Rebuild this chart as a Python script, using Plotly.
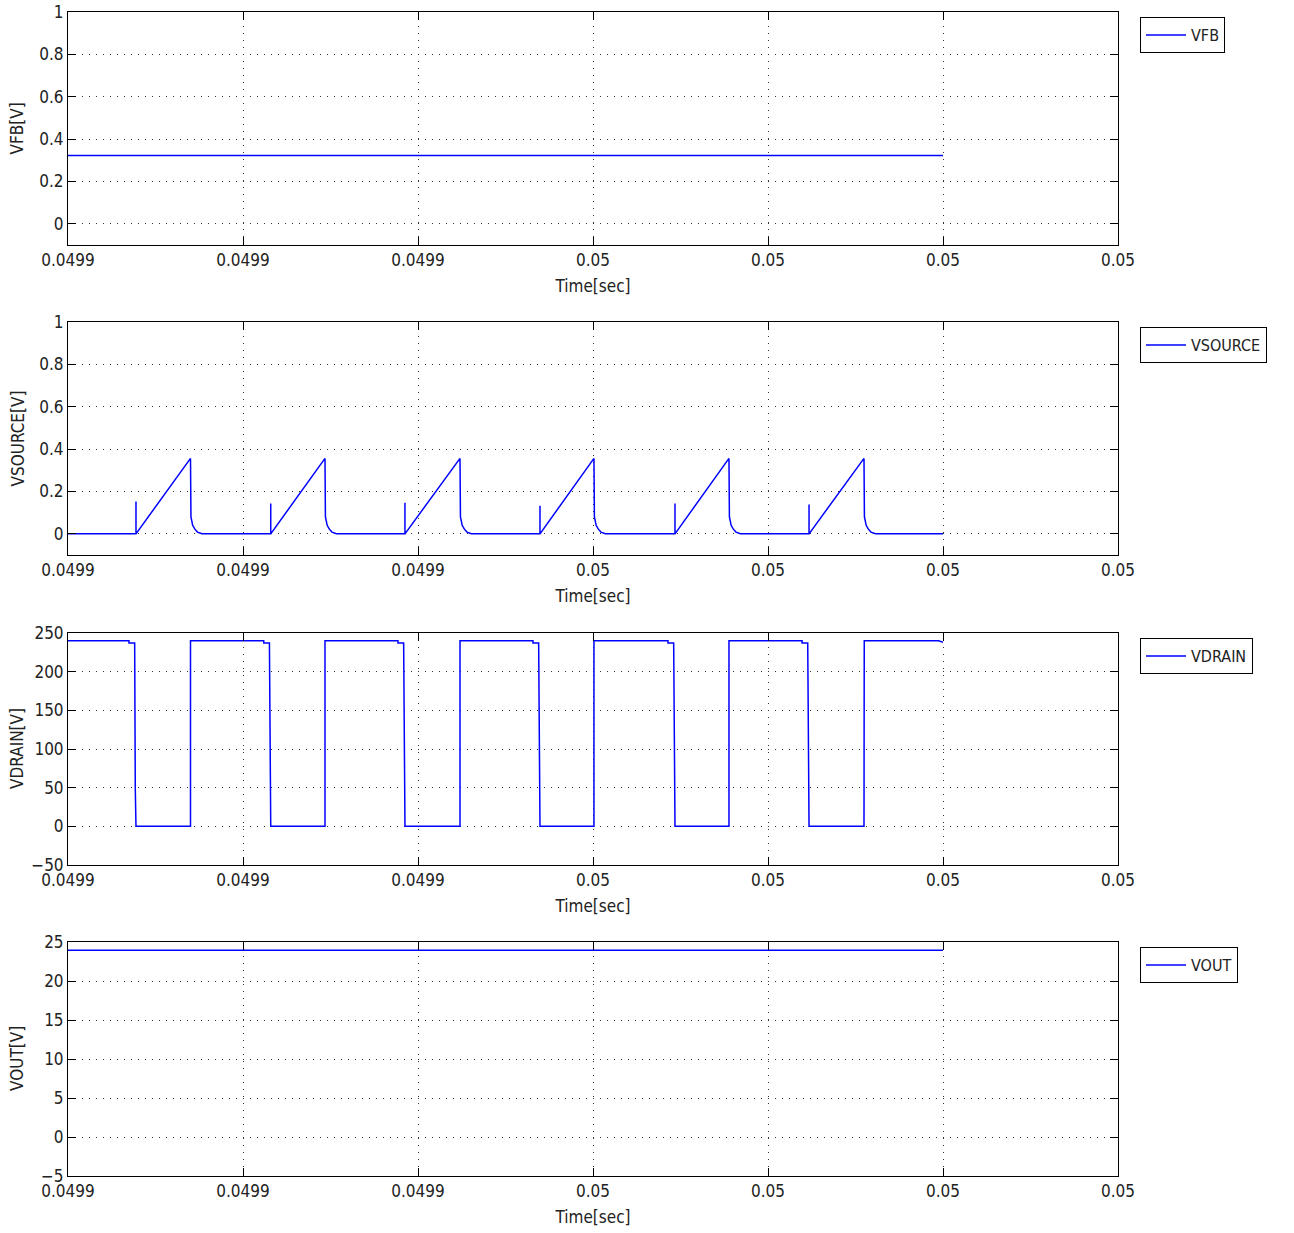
import plotly.graph_objects as go

# ---------------- data ----------------
x_tickvals = [0.04990, 0.04992, 0.04994, 0.04996, 0.04998, 0.05000, 0.05002]
x_ticktext = ["0.0499", "0.0499", "0.0499", "0.05", "0.05", "0.05", "0.05"]

vfb_t = [0.04990000, 0.05000000]
vfb_v = [0.322, 0.322]

vout_t = [0.04990000, 0.05000000]
vout_v = [23.95, 23.95]

vsource_t = [
    0.04990000,
    0.04990777, 0.04990777, 0.04990777, 0.04991400, 0.04991405, 0.04991425, 0.04991450, 0.04991480, 0.04991530,
    0.04992317, 0.04992317, 0.04992317, 0.04992937, 0.04992942, 0.04992962, 0.04992987, 0.04993017, 0.04993067,
    0.04993851, 0.04993851, 0.04993851, 0.04994480, 0.04994485, 0.04994505, 0.04994530, 0.04994560, 0.04994610,
    0.04995394, 0.04995394, 0.04995394, 0.04996011, 0.04996016, 0.04996036, 0.04996061, 0.04996091, 0.04996141,
    0.04996937, 0.04996937, 0.04996937, 0.04997554, 0.04997559, 0.04997579, 0.04997604, 0.04997634, 0.04997684,
    0.04998469, 0.04998469, 0.04998469, 0.04999097, 0.04999102, 0.04999122, 0.04999147, 0.04999177, 0.04999227,
    0.05000000,
]
vsource_v = [
    0.0,
    0.0, 0.152, 0.0, 0.356, 0.08, 0.04, 0.022, 0.008, 0.0,
    0.0, 0.143, 0.0, 0.356, 0.08, 0.04, 0.022, 0.008, 0.0,
    0.0, 0.147, 0.0, 0.356, 0.08, 0.04, 0.022, 0.008, 0.0,
    0.0, 0.133, 0.0, 0.356, 0.08, 0.04, 0.022, 0.008, 0.0,
    0.0, 0.143, 0.0, 0.356, 0.08, 0.04, 0.022, 0.008, 0.0,
    0.0, 0.138, 0.0, 0.356, 0.08, 0.04, 0.022, 0.008, 0.0,
    0.0,
]

vdrain_t = [
    0.04990000,
    0.04990697, 0.04990697, 0.04990762, 0.04990769, 0.04990777, 0.04991400, 0.04991400,
    0.04992237, 0.04992237, 0.04992302, 0.04992309, 0.04992317, 0.04992937, 0.04992937,
    0.04993771, 0.04993771, 0.04993836, 0.04993843, 0.04993851, 0.04994480, 0.04994480,
    0.04995314, 0.04995314, 0.04995379, 0.04995386, 0.04995394, 0.04996011, 0.04996011,
    0.04996857, 0.04996857, 0.04996922, 0.04996929, 0.04996937, 0.04997554, 0.04997554,
    0.04998389, 0.04998389, 0.04998454, 0.04998461, 0.04998469, 0.04999097, 0.04999097, 0.04999100, 0.04999100,
    0.04999950, 0.05000000,
]
vdrain_v = [
    240,
    240, 237, 237, 48, 0, 0, 240,
    240, 237, 237, 48, 0, 0, 240,
    240, 237, 237, 48, 0, 0, 240,
    240, 237, 237, 48, 0, 0, 240,
    240, 237, 237, 48, 0, 0, 240,
    240, 237, 237, 48, 0, 0, 100, 105, 240,
    240, 238,
]

signals = [
    ("VFB", vfb_t, vfb_v, "VFB[V]", [-0.1, 1], 0.2),
    ("VSOURCE", vsource_t, vsource_v, "VSOURCE[V]", [-0.1, 1], 0.2),
    ("VDRAIN", vdrain_t, vdrain_v, "VDRAIN[V]", [-50, 250], 50),
    ("VOUT", vout_t, vout_v, "VOUT[V]", [-5, 25], 5),
]

# ---------------- figure ----------------
W, H = 1294, 1233
ML, MR, MT, MB = 68, 176, 12, 57
PH = H - MT - MB
PW = W - ML - MR
# pixel boxes (top, bottom) of each axes in the reference
boxes = [(12, 245), (322, 555), (633, 865), (942, 1176)]

FONT = "DejaVu Sans Condensed, Liberation Sans Narrow, DejaVu Sans, sans-serif"
TXT = "#222222"

fig = go.Figure()
annotations = []
for i, (name, t, v, ytitle, yr, dt) in enumerate(signals):
    n = i + 1
    xa = "x" if n == 1 else f"x{n}"
    ya = "y" if n == 1 else f"y{n}"
    lg = "legend" if n == 1 else f"legend{n}"
    fig.add_trace(go.Scatter(x=t, y=v, mode="lines", name=name,
                             line=dict(color="#0000ff", width=1.5),
                             xaxis=xa, yaxis=ya, legend=lg, showlegend=True))
    top, bot = boxes[i]
    d0 = 1 - (bot - MT) / PH
    d1 = 1 - (top - MT) / PH
    axis_common = dict(showline=True, linecolor="black", linewidth=1, mirror="allticks",
                       ticks="inside", ticklen=8, tickcolor="black",
                       showgrid=True, gridcolor="#333333", griddash="1px,6px", gridwidth=1,
                       zeroline=False, automargin=False,
                       tickfont=dict(family=FONT, size=17, color=TXT))
    fig.layout[f"xaxis{'' if n == 1 else n}"] = dict(
        axis_common, range=[0.04990, 0.05002], tickvals=x_tickvals, ticktext=x_ticktext,
        anchor=ya, domain=[0, 1],
        title=dict(text="Time[sec]", font=dict(family=FONT, size=17, color=TXT), standoff=10))
    fig.layout[f"yaxis{'' if n == 1 else n}"] = dict(
        axis_common, range=yr, dtick=dt, tick0=0, anchor=xa, domain=[d0, d1])
    annotations.append(dict(text=ytitle, textangle=-90, xref="paper", yref="paper",
                            x=(17 - ML) / PW, y=(d0 + d1) / 2, xanchor="center", yanchor="middle",
                            showarrow=False, font=dict(family=FONT, size=17, color=TXT)))
    fig.layout[lg] = dict(x=(1140 - ML) / PW, xanchor="left",
                          y=1 - (top + 5 - MT) / PH, yanchor="top",
                          bordercolor="black", borderwidth=1, bgcolor="white",
                          font=dict(family=FONT, size=16, color=TXT),
                          itemwidth=40)

fig.update_layout(width=W, height=H, margin=dict(l=ML, r=MR, t=MT, b=MB, autoexpand=False),
                  plot_bgcolor="white", paper_bgcolor="white", annotations=annotations)

fig.write_html("out.html", config={"displayModeBar": False},
               post_script="document.body.style.margin='0';")
